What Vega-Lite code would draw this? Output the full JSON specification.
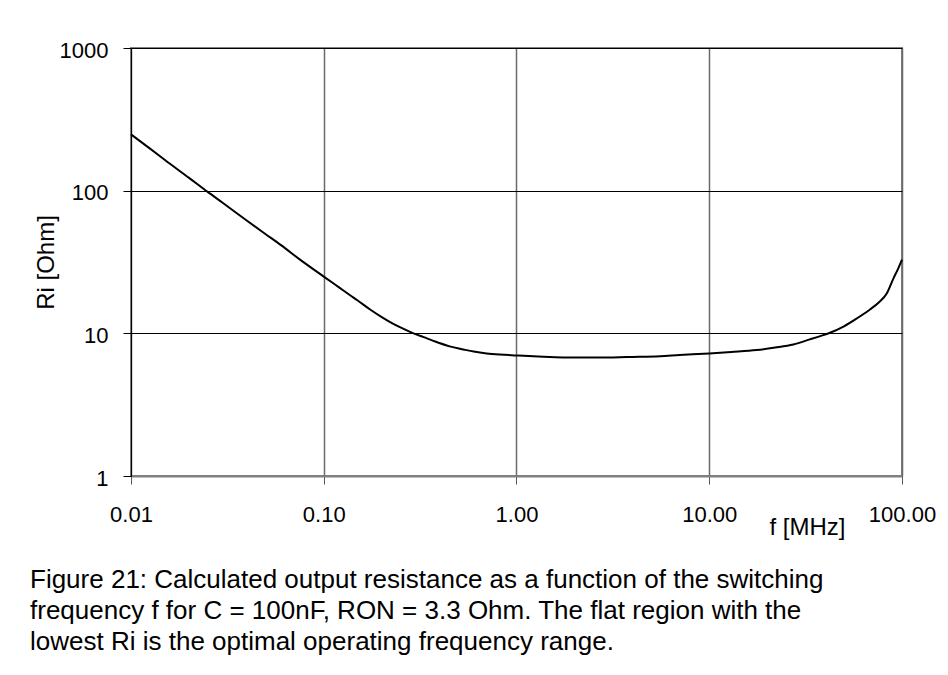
{
  "$schema": "https://vega.github.io/schema/vega-lite/v6.json",
  "autosize": "none",
  "width": 771,
  "height": 428,
  "padding": {"left": 131, "top": 48, "right": 46, "bottom": 199},
  "background": "white",
  "config": {
    "font": "Liberation Sans",
    "view": {"stroke": "#808080", "strokeWidth": 2},
    "axis": {"labelColor": "black", "titleColor": "black", "titleFontWeight": "normal"}
  },
  "title": {
    "text": [
      "Figure 21: Calculated output resistance as a function of the switching",
      "frequency f  for C = 100nF, RON = 3.3 Ohm. The flat region with the",
      "lowest Ri  is the optimal operating frequency range."
    ],
    "orient": "bottom",
    "anchor": "start",
    "frame": "group",
    "dx": -101,
    "offset": 28,
    "fontSize": 26,
    "fontWeight": "normal",
    "lineHeight": 31,
    "color": "black",
    "font": "Liberation Sans"
  },
  "data": {
    "values": [
      {"f": 0.01, "Ri": 248},
      {"f": 0.0125, "Ri": 198},
      {"f": 0.015, "Ri": 164},
      {"f": 0.02, "Ri": 123},
      {"f": 0.025, "Ri": 98},
      {"f": 0.03, "Ri": 82},
      {"f": 0.04, "Ri": 61.5},
      {"f": 0.05, "Ri": 49.5},
      {"f": 0.06, "Ri": 41.5},
      {"f": 0.075, "Ri": 33},
      {"f": 0.1, "Ri": 25},
      {"f": 0.12, "Ri": 21},
      {"f": 0.137, "Ri": 18.5},
      {"f": 0.15, "Ri": 17},
      {"f": 0.174, "Ri": 14.7},
      {"f": 0.2, "Ri": 13},
      {"f": 0.221, "Ri": 12},
      {"f": 0.25, "Ri": 11},
      {"f": 0.292, "Ri": 10},
      {"f": 0.33, "Ri": 9.4},
      {"f": 0.37, "Ri": 8.86},
      {"f": 0.45, "Ri": 8.1},
      {"f": 0.53, "Ri": 7.71},
      {"f": 0.6, "Ri": 7.45},
      {"f": 0.7, "Ri": 7.23},
      {"f": 0.82, "Ri": 7.1},
      {"f": 1, "Ri": 7.0},
      {"f": 1.3, "Ri": 6.88},
      {"f": 1.75, "Ri": 6.78},
      {"f": 2.5, "Ri": 6.76},
      {"f": 3.17, "Ri": 6.78},
      {"f": 4, "Ri": 6.83},
      {"f": 5.55, "Ri": 6.92},
      {"f": 7, "Ri": 7.05},
      {"f": 10, "Ri": 7.23},
      {"f": 13, "Ri": 7.4},
      {"f": 17.6, "Ri": 7.63},
      {"f": 22, "Ri": 7.95},
      {"f": 27.3, "Ri": 8.36},
      {"f": 33.3, "Ri": 9.07},
      {"f": 38, "Ri": 9.6},
      {"f": 42.3, "Ri": 10.1},
      {"f": 50, "Ri": 11.2},
      {"f": 58.2, "Ri": 12.7},
      {"f": 68.2, "Ri": 14.7},
      {"f": 76, "Ri": 16.5},
      {"f": 83.3, "Ri": 19.0},
      {"f": 90.2, "Ri": 24.2},
      {"f": 95, "Ri": 28},
      {"f": 100, "Ri": 32.9}
    ]
  },
  "mark": {"type": "line", "color": "black", "strokeWidth": 2, "interpolate": "monotone"},
  "encoding": {
    "x": {
      "field": "f",
      "type": "quantitative",
      "scale": {"type": "log", "domain": [0.01, 100], "nice": false},
      "axis": {
        "values": [0.01, 0.1, 1, 10, 100],
        "format": ".2f",
        "labelFontSize": 22,
        "labelPadding": 20,
        "labelFlush": false,
        "labelOverlap": false,
        "tickSize": 8,
        "tickColor": "#555555",
        "domainColor": "#808080",
        "domainWidth": 2,
        "grid": true,
        "gridColor": "#6a6a6a",
        "gridWidth": 1.5,
        "gridOpacity": 1,
        "title": "f [MHz]",
        "titleFontSize": 24,
        "titleX": 676,
        "titleY": 51,
        "titleAlign": "center",
        "titleBaseline": "middle"
      }
    },
    "y": {
      "field": "Ri",
      "type": "quantitative",
      "scale": {"type": "log", "domain": [1, 1000], "nice": false},
      "axis": {
        "values": [1, 10, 100, 1000],
        "format": "d",
        "labelFontSize": 22,
        "labelPadding": 15,
        "labelOffset": 2,
        "labelFlush": false,
        "labelOverlap": false,
        "tickSize": 8,
        "tickColor": "black",
        "domainColor": "black",
        "domainWidth": 1,
        "grid": true,
        "gridColor": "black",
        "gridWidth": 1,
        "gridOpacity": 1,
        "title": "Ri [Ohm]",
        "titleFontSize": 24,
        "titleX": -85,
        "titleY": 214,
        "titleAngle": -90,
        "titleAlign": "center",
        "titleBaseline": "middle"
      }
    }
  }
}
